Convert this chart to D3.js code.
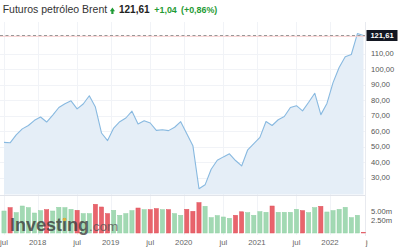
<!DOCTYPE html>
<html>
<head>
<meta charset="utf-8">
<script src="https://cdn.jsdelivr.net/npm/d3@7"></script>
<style>
	body { margin: 0; background: #fff; }
	svg { display: block; font-family: "Liberation Sans", Arial, sans-serif; }
</style>
</head>
<body>
<svg id="chart" width="401" height="250"></svg>
<script>
// Brent monthly closes, jul 2017 .. jun 2022
const closes = [
	52.65, 52.38, 57.54, 61.37, 63.57, 66.87,
	69.05, 65.78, 70.27, 75.17, 77.59, 79.44, 74.25, 77.42, 82.72, 75.47, 58.71, 53.80,
	61.89, 66.03, 68.39, 72.80, 64.49, 66.55, 65.17, 60.43, 60.78, 60.23, 62.43, 66.00,
	58.16, 50.52, 22.74, 25.27, 35.33, 41.15, 43.30, 45.28, 40.95, 37.46, 47.88, 51.80,
	55.88, 66.13, 63.54, 67.25, 69.32, 75.13, 76.33, 72.99, 78.52, 84.38, 70.57, 77.78,
	91.21, 100.99, 107.91, 109.34, 122.84, 121.61
];
const prevClose = 47.92; // jun 2017, only used for the colour of the first bar

// volume in millions
const volumes = [
	6.47, 7.47, 6.00, 7.94, 7.47, 5.88,
	6.59, 6.88, 6.47, 7.56, 7.47, 6.97, 6.68, 5.71, 5.71, 8.44, 7.65, 5.71,
	6.68, 5.21, 5.71, 6.59, 7.35, 6.88, 6.88, 7.18, 6.88, 6.88, 5.71, 5.21,
	6.97, 6.38, 8.94, 7.85, 4.53, 5.12, 4.71, 4.32, 5.21, 6.24, 6.00, 5.21,
	6.29, 6.09, 7.94, 6.09, 6.09, 6.09, 6.97, 6.59, 6.00, 7.47, 7.85, 6.18,
	6.59, 6.97, 7.56, 4.53, 5.21, 0.20
];

const priceTicks = [30, 40, 50, 60, 70, 80, 90, 100, 110];
const volumeTicks = [2.5, 5];
const tickMonths = ['2017-07', '2018-01', '2018-07', '2019-01', '2019-07', '2020-01',
	'2020-07', '2021-01', '2021-07', '2022-01', '2022-07'];
const tickLabels = ['jul', '2018', 'jul', '2019', 'jul', '2020', 'jul', '2021', 'jul', '2022', 'jul'];

const title = 'Futuros petróleo Brent';
const lastPrice = 121.61;
const change = 1.04;
const changePct = 0.86;

const svg = d3.select('#chart');
const plotRight = 365;
const priceBottom = 194.5;
const volBottom = 233;

const months = d3.timeMonth.range(new Date(2017, 6, 1), new Date(2022, 6, 1));
const parseMonth = d3.timeParse('%Y-%m');
const monthIndex = (s) => d3.timeMonth.count(months[0], parseMonth(s));

const x = d3.scaleLinear().domain([0, closes.length - 1]).range([4, 363.5]);
const y = d3.scaleLinear().domain([30, 110]).range([177.5, 53.5]);
const yv = d3.scaleLinear().domain([0, 5]).range([volBottom, 216]);

const comma = (v) => d3.format('.2f')(v).replace('.', ',');

svg.append('defs').append('clipPath').attr('id', 'clipX')
	.append('rect').attr('x', 0).attr('y', 0).attr('width', 368).attr('height', 250);

// grid
const tickX = (s, i) => x(monthIndex(s)) + (tickLabels[i] === 'jul' ? 0 : -3);
const grid = svg.append('g').attr('stroke', '#f1f3f7').attr('stroke-width', 1);
grid.selectAll('line.h').data(priceTicks).join('line')
	.attr('x1', 0).attr('x2', plotRight)
	.attr('y1', (d) => Math.round(y(d)) + 0.5).attr('y2', (d) => Math.round(y(d)) + 0.5);
grid.selectAll('line.v').data(tickMonths.slice(0, -1)).join('line')
	.attr('x1', (d, i) => Math.round(tickX(d, i)) + 0.5).attr('x2', (d, i) => Math.round(tickX(d, i)) + 0.5)
	.attr('y1', 22).attr('y2', volBottom + 2);

// price area + line
const area = d3.area().x((d, i) => x(i)).y0(priceBottom).y1((d) => y(d));
const line = d3.line().x((d, i) => x(i)).y((d) => y(d));
svg.append('path').datum(closes).attr('d', area).attr('fill', '#e5eef7');
svg.append('path').datum(closes).attr('d', line)
	.attr('fill', 'none').attr('stroke', '#88b9e0').attr('stroke-width', 1.1).attr('stroke-linejoin', 'round');

// pane borders
svg.append('line').attr('x1', 0).attr('x2', plotRight).attr('y1', 195.5).attr('y2', 195.5)
	.attr('stroke', '#e1e4ea');
svg.append('line').attr('x1', plotRight + 0.5).attr('x2', plotRight + 0.5).attr('y1', 22).attr('y2', volBottom + 3)
	.attr('stroke', '#e8eaef');

// volume bars
const isUp = (i) => closes[i] >= (i === 0 ? prevClose : closes[i - 1]);
svg.append('g').selectAll('rect').data(volumes).join('rect')
	.attr('x', (d, i) => x(i) - 2.1)
	.attr('width', 4.2)
	.attr('y', (d) => yv(d))
	.attr('height', (d) => volBottom - yv(d))
	.attr('fill', (d, i) => (isUp(i) ? '#a2d9b3' : '#e8646c'))
	.attr('stroke', (d, i) => (isUp(i) ? '#92d1a6' : '#e0535c'))
	.attr('stroke-width', 0.5);

// watermark
const wm = svg.append('g').attr('opacity', 0.78);
const wmText = wm.append('text').attr('x', 10).attr('y', 231)
	.attr('font-size', 18).attr('font-weight', 'bold').attr('fill', '#3a3a3a').text('Investing');
wm.append('text').attr('x', 89).attr('y', 231)
	.attr('font-size', 13.5).attr('fill', '#555').text('.com');
const n = wmText.node();
const dotX = (n.getStartPositionOfChar(6).x + n.getEndPositionOfChar(6).x) / 2;
wm.append('circle').attr('cx', dotX).attr('cy', 219.5).attr('r', 1.8).attr('fill', '#f0a81c');

// current price line
const yLast = y(lastPrice);
svg.append('line').attr('x1', 0).attr('x2', plotRight).attr('y1', yLast + 0.8).attr('y2', yLast + 0.8)
	.attr('stroke', '#f8cccc').attr('stroke-width', 1);
svg.append('line').attr('x1', 0).attr('x2', plotRight).attr('y1', yLast).attr('y2', yLast)
	.attr('stroke', '#999').attr('stroke-width', 1).attr('stroke-dasharray', '3,2.5');

// price axis
svg.append('g').selectAll('text').data(priceTicks).join('text')
	.attr('x', 371).attr('y', (d) => y(d)).attr('dy', '0.35em')
	.attr('font-size', 7.6).attr('fill', '#555')
	.text(comma);

svg.append('rect').attr('x', 366.5).attr('y', yLast - 5.5).attr('width', 31).attr('height', 11)
	.attr('fill', '#131722');
svg.append('text').attr('x', 382).attr('y', yLast).attr('dy', '0.35em')
	.attr('text-anchor', 'middle').attr('font-size', 7.6).attr('font-weight', 'bold').attr('fill', '#fff')
	.text(comma(lastPrice));

// volume axis
svg.append('g').selectAll('text').data(volumeTicks).join('text')
	.attr('x', 371).attr('y', (d) => yv(d) - 4.5).attr('dy', '0.35em')
	.attr('font-size', 7.6).attr('fill', '#555')
	.text((d) => d3.format('.2f')(d) + 'm');

// time axis
svg.append('g').attr('clip-path', 'url(#clipX)')
	.selectAll('text').data(tickMonths).join('text')
	.attr('x', (d, i) => tickX(d, i)).attr('y', 245)
	.attr('text-anchor', 'middle').attr('font-size', 7.8).attr('fill', '#666')
	.text((d, i) => tickLabels[i]);

// header
const green = '#1f9b35';
svg.append('text').attr('x', 2.7).attr('y', 13).attr('font-size', 10.5).attr('fill', '#333').text(title);
svg.append('path').attr('d', 'M109.8,11.2 L112.4,7.6 L115,11.2 L113.5,11.2 L113.5,14 L111.3,14 L111.3,11.2 Z')
	.attr('fill', green);
svg.append('text').attr('x', 119).attr('y', 13.3).attr('font-size', 10).attr('font-weight', 'bold')
	.attr('fill', '#222').text(comma(lastPrice));
svg.append('text').attr('x', 154.3).attr('y', 13.3).attr('font-size', 8.9).attr('font-weight', 'bold')
	.attr('fill', green).text('+' + comma(change));
svg.append('text').attr('x', 181).attr('y', 13.3).attr('font-size', 8.9).attr('font-weight', 'bold')
	.attr('fill', green).text('(+' + comma(changePct) + '%)');
</script>
</body>
</html>
